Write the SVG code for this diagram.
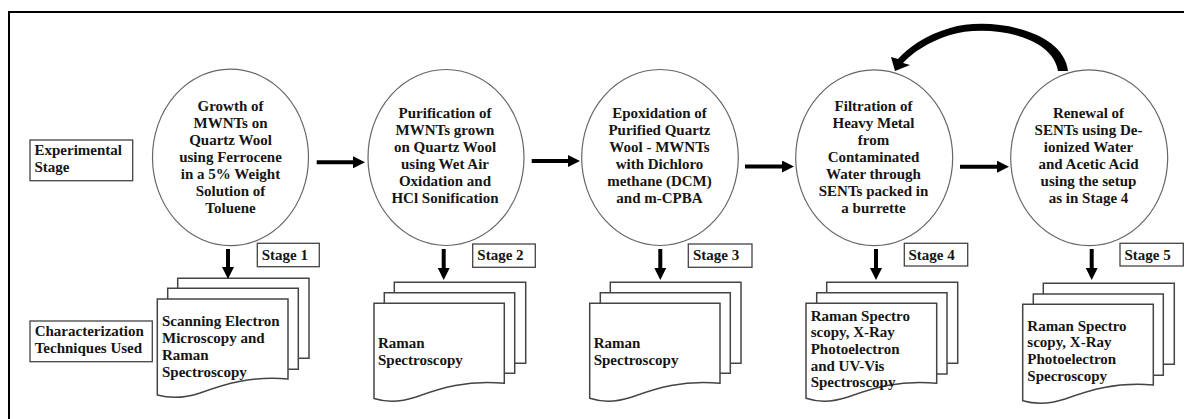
<svg xmlns="http://www.w3.org/2000/svg" width="1184" height="419" viewBox="0 0 1184 419">
<defs>
<style>
.t{font-family:"Liberation Serif","Times New Roman",serif;font-weight:bold;font-size:15px;fill:#151515}
.c{text-anchor:middle}
.circ{fill:#fff;stroke:#666;stroke-width:1.2}
.box{fill:#fff;stroke:#444;stroke-width:1.3}
.pg{fill:#fff;stroke:#444;stroke-width:1.5}
.ar{stroke:#000;stroke-width:4;fill:none}
</style>
<marker id="ah" markerUnits="userSpaceOnUse" markerWidth="12" markerHeight="12" refX="2" refY="6" orient="auto">
<path d="M0,0 L12,6 L0,12 Z" fill="#000"/>
</marker>
</defs>
<rect x="0" y="0" width="1184" height="419" fill="#fff"/>
<rect x="9" y="12" width="1190" height="420" fill="none" stroke="#000" stroke-width="2"/>

<g id="label-experimental">
<rect class="box" x="30" y="140" width="102.7" height="40.7"/>
<text class="t" x="34.5" y="155">Experimental</text>
<text class="t" x="34.5" y="172">Stage</text>
</g>
<g id="label-characterization">
<rect class="box" x="30" y="321" width="122.3" height="40.7"/>
<text class="t" x="34.7" y="336">Characterization</text>
<text class="t" x="34.7" y="353">Techniques Used</text>
</g>

<g id="stage1">
<ellipse class="circ" cx="230.5" cy="157.4" rx="78" ry="88.3"/>
<text class="t c" x="230.5" y="111">Growth of</text>
<text class="t c" x="230.5" y="128">MWNTs on</text>
<text class="t c" x="230.5" y="145">Quartz Wool</text>
<text class="t c" x="230.5" y="162">using Ferrocene</text>
<text class="t c" x="230.5" y="179">in a 5% Weight</text>
<text class="t c" x="230.5" y="196">Solution of</text>
<text class="t c" x="230.5" y="212.5">Toluene</text>
<rect class="box" x="257.3" y="243.3" width="62" height="23.4"/>
<text class="t" x="261.7" y="259.5">Stage 1</text>
</g>
<g id="stage2">
<ellipse class="circ" cx="446" cy="157.5" rx="78" ry="88"/>
<text class="t c" x="445" y="118.3">Purification of</text>
<text class="t c" x="445" y="135.3">MWNTs grown</text>
<text class="t c" x="445" y="152.3">on Quartz Wool</text>
<text class="t c" x="445" y="169.3">using Wet  Air</text>
<text class="t c" x="445" y="186.3">Oxidation and</text>
<text class="t c" x="445" y="203.3">HCl Sonification</text>
<rect class="box" x="472.7" y="244" width="62.6" height="23.3"/>
<text class="t" x="477.3" y="259.5">Stage 2</text>
</g>
<g id="stage3">
<ellipse class="circ" cx="660" cy="157.5" rx="78.3" ry="88"/>
<text class="t c" x="659.5" y="118.3">Epoxidation of</text>
<text class="t c" x="659.5" y="135.3">Purified Quartz</text>
<text class="t c" x="659.5" y="152.3">Wool - MWNTs</text>
<text class="t c" x="659.5" y="169.3">with Dichloro</text>
<text class="t c" x="659.5" y="186.3">methane (DCM)</text>
<text class="t c" x="659.5" y="203.3">and m-CPBA</text>
<rect class="box" x="688.3" y="244" width="63.7" height="23.3"/>
<text class="t" x="693" y="259.5">Stage 3</text>
</g>
<g id="stage4">
<ellipse class="circ" cx="874.2" cy="157.8" rx="78.5" ry="87.9"/>
<text class="t c" x="873.5" y="111">Filtration of</text>
<text class="t c" x="873.5" y="128">Heavy Metal</text>
<text class="t c" x="873.5" y="145">from</text>
<text class="t c" x="873.5" y="162">Contaminated</text>
<text class="t c" x="873.5" y="179">Water through</text>
<text class="t c" x="873.5" y="196">SENTs packed in</text>
<text class="t c" x="873.5" y="212.5">a burrette</text>
<rect class="box" x="904.3" y="243.3" width="63.4" height="22.7"/>
<text class="t" x="908.5" y="259.5">Stage 4</text>
</g>
<g id="stage5">
<ellipse class="circ" cx="1089.2" cy="157.8" rx="78.5" ry="87.9"/>
<text class="t c" x="1088.5" y="118.3">Renewal of</text>
<text class="t c" x="1088.5" y="135.3">SENTs using De-</text>
<text class="t c" x="1088.5" y="152.3">ionized Water</text>
<text class="t c" x="1088.5" y="169.3">and Acetic Acid</text>
<text class="t c" x="1088.5" y="186.3">using the setup</text>
<text class="t c" x="1088.5" y="203.3">as in Stage 4</text>
<rect class="box" x="1120" y="243.3" width="63.3" height="22.7"/>
<text class="t" x="1124.5" y="259.5">Stage 5</text>
</g>

<g id="doc1">
<path class="pg" d="M177.7,288.3 V278.3 H309 V358.3 H298.3"/>
<path class="pg" d="M167.7,299 V288.3 H298.3 V369.3 H288"/>
<path class="pg" d="M157.3,299 H288 V379 C250,376 225,384 200,393 C182,399 168,398 157.3,395 Z"/>
<text class="t" x="162" y="326">Scanning Electron</text>
<text class="t" x="162" y="343">Microscopy and</text>
<text class="t" x="162" y="360">Raman</text>
<text class="t" x="162" y="377">Spectroscopy</text>
</g>
<g id="doc2">
<path class="pg" d="M394.3,292.7 V282.3 H525.7 V363.3 H514.7"/>
<path class="pg" d="M384.3,303.3 V292.7 H514.7 V373.3 H504.3"/>
<path class="pg" d="M374,303.3 H504.3 V383.3 C466,380 441,388 416,397 C398,403 385,402 374,398.5 Z"/>
<text class="t" x="378" y="348.3">Raman</text>
<text class="t" x="378" y="365">Spectroscopy</text>
</g>
<g id="doc3">
<path class="pg" d="M610.3,292.7 V282.3 H741 V363.3 H730.3"/>
<path class="pg" d="M600.3,303.3 V292.7 H730.3 V373.3 H720"/>
<path class="pg" d="M589.7,303.3 H720 V383.3 C682,380 657,388 632,397 C614,403 601,402 589.7,398.3 Z"/>
<text class="t" x="593.7" y="348.3">Raman</text>
<text class="t" x="593.7" y="365">Spectroscopy</text>
</g>
<g id="doc4">
<path class="pg" d="M826.7,292.7 V282.3 H957.7 V363.3 H947"/>
<path class="pg" d="M816.7,303.3 V292.7 H947 V374 H936.7"/>
<path class="pg" d="M806,303.3 H936.7 V383.3 C898,380 873,388 848,397 C830,403 817,402 806,398.3 Z"/>
<text class="t" x="810.7" y="320.7">Raman Spectro</text>
<text class="t" x="810.7" y="337.3">scopy, X-Ray</text>
<text class="t" x="810.7" y="354">Photoelectron</text>
<text class="t" x="810.7" y="370.7">and UV-Vis</text>
<text class="t" x="810.7" y="387.3">Spectroscopy</text>
</g>
<g id="doc5">
<path class="pg" d="M1043.3,294 V283.3 H1174.3 V364.3 H1163.3"/>
<path class="pg" d="M1033.3,304.3 V294 H1163.3 V375.3 H1153.3"/>
<path class="pg" d="M1022.7,304.3 H1153.3 V385 C1115,382 1090,390 1065,399 C1047,405 1034,404 1022.7,400.7 Z"/>
<text class="t" x="1027.3" y="330.7">Raman Spectro</text>
<text class="t" x="1027.3" y="347.3">scopy, X-Ray</text>
<text class="t" x="1027.3" y="364">Photoelectron</text>
<text class="t" x="1027.3" y="380.7">Specroscopy</text>
</g>

<g id="connectors">
<line class="ar" x1="316.7" y1="162.3" x2="355" y2="162.3" marker-end="url(#ah)"/>
<line class="ar" x1="531.7" y1="161" x2="570" y2="161" marker-end="url(#ah)"/>
<line class="ar" x1="745" y1="166.5" x2="784" y2="166.5" marker-end="url(#ah)"/>
<line class="ar" x1="960" y1="166.7" x2="999" y2="166.7" marker-end="url(#ah)"/>
<line class="ar" x1="228" y1="249" x2="228" y2="269" marker-end="url(#ah)"/>
<line class="ar" x1="443.7" y1="249" x2="443.7" y2="270" marker-end="url(#ah)"/>
<line class="ar" x1="660.3" y1="249" x2="660.3" y2="270" marker-end="url(#ah)"/>
<line class="ar" x1="876" y1="249" x2="876" y2="270" marker-end="url(#ah)"/>
<line class="ar" x1="1091.7" y1="249" x2="1091.7" y2="270" marker-end="url(#ah)"/>
<path d="M1068,71 C1064,30 990,16 950,28 C925,35 908,48 898,59 L891,57 L895,71 L910,65 L903,63 C912,53 928,42 950,35 C985,24 1052,34 1058,71 Z" fill="#000"/>
</g>
</svg>
